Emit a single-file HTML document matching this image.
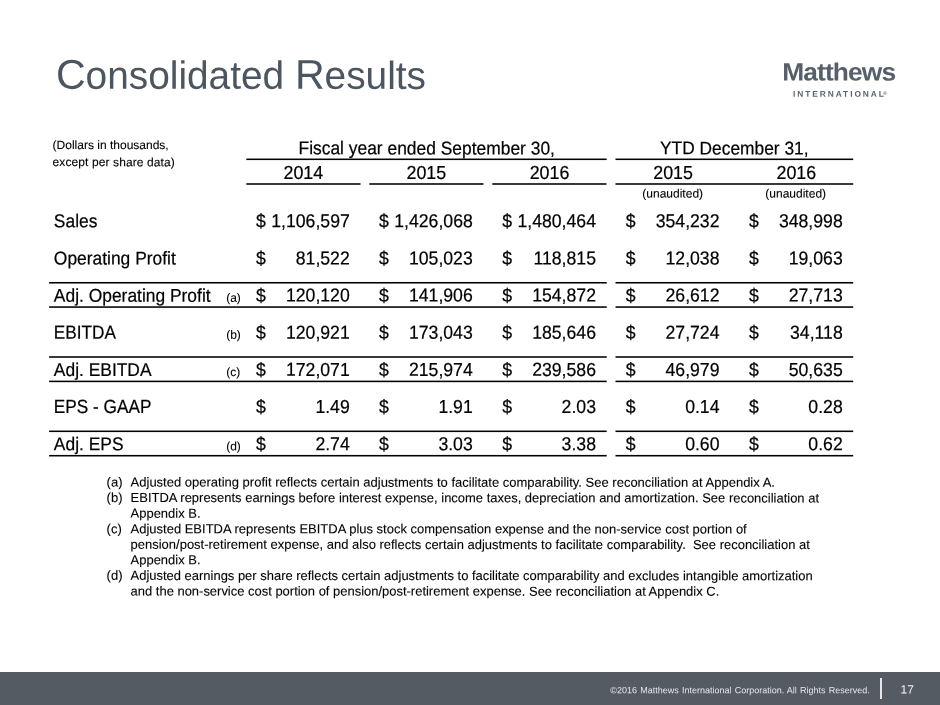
<!DOCTYPE html>
<html lang="en">
<head>
<meta charset="utf-8">
<title>Consolidated Results</title>
<style>
html,body{margin:0;padding:0;background:#fff;}
body{width:940px;height:705px;position:relative;overflow:hidden;font-family:"Liberation Sans",Arial,Helvetica,sans-serif;color:#000;}
.t{position:absolute;white-space:nowrap;margin:0;padding:0;}
.ln{position:absolute;}
h1.t{font-weight:normal;}
</style>
</head>
<body>
<svg class="ln" style="left:0;top:0" width="940" height="705" viewBox="0 0 940 705" fill="#000"><rect x="246.30" y="158.53" width="360.40" height="1.55"/><rect x="615.50" y="158.53" width="237.70" height="1.55"/><rect x="246.30" y="183.22" width="114.20" height="1.55"/><rect x="369.30" y="183.22" width="114.20" height="1.55"/><rect x="492.30" y="183.22" width="114.20" height="1.55"/><rect x="615.50" y="183.22" width="237.70" height="1.55"/><rect x="49.10" y="281.98" width="557.60" height="1.55"/><rect x="615.50" y="281.98" width="237.70" height="1.55"/><rect x="49.10" y="356.23" width="557.60" height="1.55"/><rect x="615.50" y="356.23" width="237.70" height="1.55"/><rect x="49.10" y="430.53" width="557.60" height="1.55"/><rect x="615.50" y="430.53" width="237.70" height="1.55"/><rect x="49.10" y="306.28" width="557.60" height="1.55"/><rect x="615.50" y="306.28" width="237.70" height="1.55"/><rect x="49.10" y="380.62" width="557.60" height="1.55"/><rect x="615.50" y="380.62" width="237.70" height="1.55"/><rect x="49.10" y="454.93" width="557.60" height="1.55"/><rect x="615.50" y="454.93" width="237.70" height="1.55"/></svg>
<header>
<h1 class="t" style="top:51px;font-size:39.3px;line-height:46px;left:55px;transform:translate(0.90px,0.70px) scale(0.9878,1) rotate(0.03deg);transform-origin:0 37px;color:#4c5661;"><span style="font-size:41.6px">C</span>onsolidated <span style="font-size:41.6px">R</span>esults</h1>
<div class="t" style="top:56px;font-size:25px;line-height:30px;left:782px;transform:translate(0.20px,0.50px) scale(1.055,1) rotate(0.03deg);transform-origin:0 24px;letter-spacing:-0.85px;color:#55606b;font-weight:bold;">Matthews</div>
<div class="t" style="top:87px;font-size:8.4px;line-height:12px;left:793px;transform:translate(0.00px,0.70px) rotate(0.03deg);transform-origin:0 9px;letter-spacing:1.93px;color:#58636e;font-weight:bold;">INTERNATIONAL</div>
<div class="t" style="top:89px;font-size:4.5px;line-height:7px;left:883px;transform:translate(0.20px,0.80px) rotate(0.03deg);transform-origin:0 5px;color:#55606b;font-weight:bold;">®</div>
</header>
<main>
<section class="results">
<div class="t" style="top:137px;font-size:12px;line-height:16px;left:52px;transform:translate(0.60px,0.00px) rotate(0.03deg);transform-origin:0 12px;-webkit-text-stroke:0.1px #000;">(Dollars in thousands,</div>
<div class="t" style="top:154px;font-size:12px;line-height:16px;left:52px;transform:translate(0.60px,0.10px) rotate(0.03deg);transform-origin:0 12px;letter-spacing:0.1px;-webkit-text-stroke:0.1px #000;">except per share data)</div>
<div class="t" style="top:137px;font-size:18px;line-height:22px;left:226px;width:400px;text-align:center;transform:translate(0.70px,0.40px) scale(0.967,1.03) rotate(0.03deg);transform-origin:50% 17px;-webkit-text-stroke:0.2px #000;">Fiscal year ended September 30,</div>
<div class="t" style="top:137px;font-size:18px;line-height:22px;left:534px;width:400px;text-align:center;transform:translate(0.30px,0.40px) scale(0.964,1.03) rotate(0.03deg);transform-origin:50% 17px;-webkit-text-stroke:0.2px #000;">YTD December 31,</div>
<div class="t" style="top:162px;font-size:18px;line-height:22px;left:103px;width:400px;text-align:center;transform:translate(0.30px,0.00px) scale(0.99,1.045) rotate(0.03deg);transform-origin:50% 17px;-webkit-text-stroke:0.2px #000;">2014</div>
<div class="t" style="top:162px;font-size:18px;line-height:22px;left:226px;width:400px;text-align:center;transform:translate(0.30px,0.00px) scale(0.99,1.045) rotate(0.03deg);transform-origin:50% 17px;-webkit-text-stroke:0.2px #000;">2015</div>
<div class="t" style="top:162px;font-size:18px;line-height:22px;left:349px;width:400px;text-align:center;transform:translate(0.50px,0.00px) scale(0.99,1.045) rotate(0.03deg);transform-origin:50% 17px;-webkit-text-stroke:0.2px #000;">2016</div>
<div class="t" style="top:162px;font-size:18px;line-height:22px;left:473px;width:400px;text-align:center;transform:translate(0.10px,0.00px) scale(0.99,1.045) rotate(0.03deg);transform-origin:50% 17px;-webkit-text-stroke:0.2px #000;">2015</div>
<div class="t" style="top:162px;font-size:18px;line-height:22px;left:596px;width:400px;text-align:center;transform:translate(0.30px,0.00px) scale(0.99,1.045) rotate(0.03deg);transform-origin:50% 17px;-webkit-text-stroke:0.2px #000;">2016</div>
<div class="t" style="top:185px;font-size:12px;line-height:16px;left:472px;width:400px;text-align:center;transform:translate(0.70px,0.60px) rotate(0.03deg);transform-origin:50% 12px;-webkit-text-stroke:0.1px #000;">(unaudited)</div>
<div class="t" style="top:185px;font-size:12px;line-height:16px;left:595px;width:400px;text-align:center;transform:translate(0.70px,0.60px) rotate(0.03deg);transform-origin:50% 12px;-webkit-text-stroke:0.1px #000;">(unaudited)</div>
<div class="t" style="top:210px;font-size:18px;line-height:22px;left:53px;transform:translate(0.85px,0.35px) scale(0.967,1.03) rotate(0.03deg);transform-origin:0 17px;-webkit-text-stroke:0.2px #000;">Sales</div>
<div class="t" style="top:210px;font-size:18px;line-height:22px;left:255px;transform:translate(0.95px,0.35px) scale(0.98,1.045) rotate(0.03deg);transform-origin:0 17px;-webkit-text-stroke:0.2px #000;">$</div>
<div class="t" style="top:210px;font-size:18px;line-height:22px;left:-51px;width:400px;text-align:right;transform:translate(0.75px,0.35px) scale(0.98,1.045) rotate(0.03deg);transform-origin:100% 17px;-webkit-text-stroke:0.2px #000;">1,106,597</div>
<div class="t" style="top:210px;font-size:18px;line-height:22px;left:378px;transform:translate(0.95px,0.35px) scale(0.98,1.045) rotate(0.03deg);transform-origin:0 17px;-webkit-text-stroke:0.2px #000;">$</div>
<div class="t" style="top:210px;font-size:18px;line-height:22px;left:72px;width:400px;text-align:right;transform:translate(0.75px,0.35px) scale(0.98,1.045) rotate(0.03deg);transform-origin:100% 17px;-webkit-text-stroke:0.2px #000;">1,426,068</div>
<div class="t" style="top:210px;font-size:18px;line-height:22px;left:502px;transform:translate(0.15px,0.35px) scale(0.98,1.045) rotate(0.03deg);transform-origin:0 17px;-webkit-text-stroke:0.2px #000;">$</div>
<div class="t" style="top:210px;font-size:18px;line-height:22px;left:195px;width:400px;text-align:right;transform:translate(0.95px,0.35px) scale(0.98,1.045) rotate(0.03deg);transform-origin:100% 17px;-webkit-text-stroke:0.2px #000;">1,480,464</div>
<div class="t" style="top:210px;font-size:18px;line-height:22px;left:625px;transform:translate(0.70px,0.35px) scale(0.98,1.045) rotate(0.03deg);transform-origin:0 17px;-webkit-text-stroke:0.2px #000;">$</div>
<div class="t" style="top:210px;font-size:18px;line-height:22px;left:319px;width:400px;text-align:right;transform:translate(0.50px,0.35px) scale(0.98,1.045) rotate(0.03deg);transform-origin:100% 17px;-webkit-text-stroke:0.2px #000;">354,232</div>
<div class="t" style="top:210px;font-size:18px;line-height:22px;left:748px;transform:translate(0.90px,0.35px) scale(0.98,1.045) rotate(0.03deg);transform-origin:0 17px;-webkit-text-stroke:0.2px #000;">$</div>
<div class="t" style="top:210px;font-size:18px;line-height:22px;left:442px;width:400px;text-align:right;transform:translate(0.70px,0.35px) scale(0.98,1.045) rotate(0.03deg);transform-origin:100% 17px;-webkit-text-stroke:0.2px #000;">348,998</div>
<div class="t" style="top:247px;font-size:18px;line-height:22px;left:53px;transform:translate(0.85px,0.49px) scale(0.967,1.03) rotate(0.03deg);transform-origin:0 17px;-webkit-text-stroke:0.2px #000;">Operating Profit</div>
<div class="t" style="top:247px;font-size:18px;line-height:22px;left:255px;transform:translate(0.95px,0.49px) scale(0.98,1.045) rotate(0.03deg);transform-origin:0 17px;-webkit-text-stroke:0.2px #000;">$</div>
<div class="t" style="top:247px;font-size:18px;line-height:22px;left:-51px;width:400px;text-align:right;transform:translate(0.75px,0.49px) scale(0.98,1.045) rotate(0.03deg);transform-origin:100% 17px;-webkit-text-stroke:0.2px #000;">81,522</div>
<div class="t" style="top:247px;font-size:18px;line-height:22px;left:378px;transform:translate(0.95px,0.49px) scale(0.98,1.045) rotate(0.03deg);transform-origin:0 17px;-webkit-text-stroke:0.2px #000;">$</div>
<div class="t" style="top:247px;font-size:18px;line-height:22px;left:72px;width:400px;text-align:right;transform:translate(0.75px,0.49px) scale(0.98,1.045) rotate(0.03deg);transform-origin:100% 17px;-webkit-text-stroke:0.2px #000;">105,023</div>
<div class="t" style="top:247px;font-size:18px;line-height:22px;left:502px;transform:translate(0.15px,0.49px) scale(0.98,1.045) rotate(0.03deg);transform-origin:0 17px;-webkit-text-stroke:0.2px #000;">$</div>
<div class="t" style="top:247px;font-size:18px;line-height:22px;left:195px;width:400px;text-align:right;transform:translate(0.95px,0.49px) scale(0.98,1.045) rotate(0.03deg);transform-origin:100% 17px;-webkit-text-stroke:0.2px #000;">118,815</div>
<div class="t" style="top:247px;font-size:18px;line-height:22px;left:625px;transform:translate(0.70px,0.49px) scale(0.98,1.045) rotate(0.03deg);transform-origin:0 17px;-webkit-text-stroke:0.2px #000;">$</div>
<div class="t" style="top:247px;font-size:18px;line-height:22px;left:319px;width:400px;text-align:right;transform:translate(0.50px,0.49px) scale(0.98,1.045) rotate(0.03deg);transform-origin:100% 17px;-webkit-text-stroke:0.2px #000;">12,038</div>
<div class="t" style="top:247px;font-size:18px;line-height:22px;left:748px;transform:translate(0.90px,0.49px) scale(0.98,1.045) rotate(0.03deg);transform-origin:0 17px;-webkit-text-stroke:0.2px #000;">$</div>
<div class="t" style="top:247px;font-size:18px;line-height:22px;left:442px;width:400px;text-align:right;transform:translate(0.70px,0.49px) scale(0.98,1.045) rotate(0.03deg);transform-origin:100% 17px;-webkit-text-stroke:0.2px #000;">19,063</div>
<div class="t" style="top:284px;font-size:18px;line-height:22px;left:53px;transform:translate(0.85px,0.63px) scale(0.967,1.03) rotate(0.03deg);transform-origin:0 17px;-webkit-text-stroke:0.2px #000;">Adj. Operating Profit</div>
<div class="t" style="top:289px;font-size:12px;line-height:16px;left:226px;transform:translate(0.20px,0.63px) rotate(0.03deg);transform-origin:0 12px;-webkit-text-stroke:0.1px #000;">(a)</div>
<div class="t" style="top:284px;font-size:18px;line-height:22px;left:255px;transform:translate(0.95px,0.63px) scale(0.98,1.045) rotate(0.03deg);transform-origin:0 17px;-webkit-text-stroke:0.2px #000;">$</div>
<div class="t" style="top:284px;font-size:18px;line-height:22px;left:-51px;width:400px;text-align:right;transform:translate(0.75px,0.63px) scale(0.98,1.045) rotate(0.03deg);transform-origin:100% 17px;-webkit-text-stroke:0.2px #000;">120,120</div>
<div class="t" style="top:284px;font-size:18px;line-height:22px;left:378px;transform:translate(0.95px,0.63px) scale(0.98,1.045) rotate(0.03deg);transform-origin:0 17px;-webkit-text-stroke:0.2px #000;">$</div>
<div class="t" style="top:284px;font-size:18px;line-height:22px;left:72px;width:400px;text-align:right;transform:translate(0.75px,0.63px) scale(0.98,1.045) rotate(0.03deg);transform-origin:100% 17px;-webkit-text-stroke:0.2px #000;">141,906</div>
<div class="t" style="top:284px;font-size:18px;line-height:22px;left:502px;transform:translate(0.15px,0.63px) scale(0.98,1.045) rotate(0.03deg);transform-origin:0 17px;-webkit-text-stroke:0.2px #000;">$</div>
<div class="t" style="top:284px;font-size:18px;line-height:22px;left:195px;width:400px;text-align:right;transform:translate(0.95px,0.63px) scale(0.98,1.045) rotate(0.03deg);transform-origin:100% 17px;-webkit-text-stroke:0.2px #000;">154,872</div>
<div class="t" style="top:284px;font-size:18px;line-height:22px;left:625px;transform:translate(0.70px,0.63px) scale(0.98,1.045) rotate(0.03deg);transform-origin:0 17px;-webkit-text-stroke:0.2px #000;">$</div>
<div class="t" style="top:284px;font-size:18px;line-height:22px;left:319px;width:400px;text-align:right;transform:translate(0.50px,0.63px) scale(0.98,1.045) rotate(0.03deg);transform-origin:100% 17px;-webkit-text-stroke:0.2px #000;">26,612</div>
<div class="t" style="top:284px;font-size:18px;line-height:22px;left:748px;transform:translate(0.90px,0.63px) scale(0.98,1.045) rotate(0.03deg);transform-origin:0 17px;-webkit-text-stroke:0.2px #000;">$</div>
<div class="t" style="top:284px;font-size:18px;line-height:22px;left:442px;width:400px;text-align:right;transform:translate(0.70px,0.63px) scale(0.98,1.045) rotate(0.03deg);transform-origin:100% 17px;-webkit-text-stroke:0.2px #000;">27,713</div>
<div class="t" style="top:321px;font-size:18px;line-height:22px;left:53px;transform:translate(0.85px,0.77px) scale(0.956,1.06) rotate(0.03deg);transform-origin:0 17px;-webkit-text-stroke:0.2px #000;">EBITDA</div>
<div class="t" style="top:326px;font-size:12px;line-height:16px;left:226px;transform:translate(0.20px,0.77px) rotate(0.03deg);transform-origin:0 12px;-webkit-text-stroke:0.1px #000;">(b)</div>
<div class="t" style="top:321px;font-size:18px;line-height:22px;left:255px;transform:translate(0.95px,0.77px) scale(0.98,1.045) rotate(0.03deg);transform-origin:0 17px;-webkit-text-stroke:0.2px #000;">$</div>
<div class="t" style="top:321px;font-size:18px;line-height:22px;left:-51px;width:400px;text-align:right;transform:translate(0.75px,0.77px) scale(0.98,1.045) rotate(0.03deg);transform-origin:100% 17px;-webkit-text-stroke:0.2px #000;">120,921</div>
<div class="t" style="top:321px;font-size:18px;line-height:22px;left:378px;transform:translate(0.95px,0.77px) scale(0.98,1.045) rotate(0.03deg);transform-origin:0 17px;-webkit-text-stroke:0.2px #000;">$</div>
<div class="t" style="top:321px;font-size:18px;line-height:22px;left:72px;width:400px;text-align:right;transform:translate(0.75px,0.77px) scale(0.98,1.045) rotate(0.03deg);transform-origin:100% 17px;-webkit-text-stroke:0.2px #000;">173,043</div>
<div class="t" style="top:321px;font-size:18px;line-height:22px;left:502px;transform:translate(0.15px,0.77px) scale(0.98,1.045) rotate(0.03deg);transform-origin:0 17px;-webkit-text-stroke:0.2px #000;">$</div>
<div class="t" style="top:321px;font-size:18px;line-height:22px;left:195px;width:400px;text-align:right;transform:translate(0.95px,0.77px) scale(0.98,1.045) rotate(0.03deg);transform-origin:100% 17px;-webkit-text-stroke:0.2px #000;">185,646</div>
<div class="t" style="top:321px;font-size:18px;line-height:22px;left:625px;transform:translate(0.70px,0.77px) scale(0.98,1.045) rotate(0.03deg);transform-origin:0 17px;-webkit-text-stroke:0.2px #000;">$</div>
<div class="t" style="top:321px;font-size:18px;line-height:22px;left:319px;width:400px;text-align:right;transform:translate(0.50px,0.77px) scale(0.98,1.045) rotate(0.03deg);transform-origin:100% 17px;-webkit-text-stroke:0.2px #000;">27,724</div>
<div class="t" style="top:321px;font-size:18px;line-height:22px;left:748px;transform:translate(0.90px,0.77px) scale(0.98,1.045) rotate(0.03deg);transform-origin:0 17px;-webkit-text-stroke:0.2px #000;">$</div>
<div class="t" style="top:321px;font-size:18px;line-height:22px;left:442px;width:400px;text-align:right;transform:translate(0.70px,0.77px) scale(0.98,1.045) rotate(0.03deg);transform-origin:100% 17px;-webkit-text-stroke:0.2px #000;">34,118</div>
<div class="t" style="top:358px;font-size:18px;line-height:22px;left:53px;transform:translate(0.85px,0.91px) scale(0.967,1.03) rotate(0.03deg);transform-origin:0 17px;-webkit-text-stroke:0.2px #000;">Adj. EBITDA</div>
<div class="t" style="top:363px;font-size:12px;line-height:16px;left:226px;transform:translate(0.20px,0.91px) rotate(0.03deg);transform-origin:0 12px;-webkit-text-stroke:0.1px #000;">(c)</div>
<div class="t" style="top:358px;font-size:18px;line-height:22px;left:255px;transform:translate(0.95px,0.91px) scale(0.98,1.045) rotate(0.03deg);transform-origin:0 17px;-webkit-text-stroke:0.2px #000;">$</div>
<div class="t" style="top:358px;font-size:18px;line-height:22px;left:-51px;width:400px;text-align:right;transform:translate(0.75px,0.91px) scale(0.98,1.045) rotate(0.03deg);transform-origin:100% 17px;-webkit-text-stroke:0.2px #000;">172,071</div>
<div class="t" style="top:358px;font-size:18px;line-height:22px;left:378px;transform:translate(0.95px,0.91px) scale(0.98,1.045) rotate(0.03deg);transform-origin:0 17px;-webkit-text-stroke:0.2px #000;">$</div>
<div class="t" style="top:358px;font-size:18px;line-height:22px;left:72px;width:400px;text-align:right;transform:translate(0.75px,0.91px) scale(0.98,1.045) rotate(0.03deg);transform-origin:100% 17px;-webkit-text-stroke:0.2px #000;">215,974</div>
<div class="t" style="top:358px;font-size:18px;line-height:22px;left:502px;transform:translate(0.15px,0.91px) scale(0.98,1.045) rotate(0.03deg);transform-origin:0 17px;-webkit-text-stroke:0.2px #000;">$</div>
<div class="t" style="top:358px;font-size:18px;line-height:22px;left:195px;width:400px;text-align:right;transform:translate(0.95px,0.91px) scale(0.98,1.045) rotate(0.03deg);transform-origin:100% 17px;-webkit-text-stroke:0.2px #000;">239,586</div>
<div class="t" style="top:358px;font-size:18px;line-height:22px;left:625px;transform:translate(0.70px,0.91px) scale(0.98,1.045) rotate(0.03deg);transform-origin:0 17px;-webkit-text-stroke:0.2px #000;">$</div>
<div class="t" style="top:358px;font-size:18px;line-height:22px;left:319px;width:400px;text-align:right;transform:translate(0.50px,0.91px) scale(0.98,1.045) rotate(0.03deg);transform-origin:100% 17px;-webkit-text-stroke:0.2px #000;">46,979</div>
<div class="t" style="top:358px;font-size:18px;line-height:22px;left:748px;transform:translate(0.90px,0.91px) scale(0.98,1.045) rotate(0.03deg);transform-origin:0 17px;-webkit-text-stroke:0.2px #000;">$</div>
<div class="t" style="top:358px;font-size:18px;line-height:22px;left:442px;width:400px;text-align:right;transform:translate(0.70px,0.91px) scale(0.98,1.045) rotate(0.03deg);transform-origin:100% 17px;-webkit-text-stroke:0.2px #000;">50,635</div>
<div class="t" style="top:396px;font-size:18px;line-height:22px;left:53px;transform:translate(0.85px,0.05px) scale(0.956,1.06) rotate(0.03deg);transform-origin:0 17px;-webkit-text-stroke:0.2px #000;">EPS - GAAP</div>
<div class="t" style="top:396px;font-size:18px;line-height:22px;left:255px;transform:translate(0.95px,0.05px) scale(0.98,1.045) rotate(0.03deg);transform-origin:0 17px;-webkit-text-stroke:0.2px #000;">$</div>
<div class="t" style="top:396px;font-size:18px;line-height:22px;left:-51px;width:400px;text-align:right;transform:translate(0.75px,0.05px) scale(0.98,1.045) rotate(0.03deg);transform-origin:100% 17px;-webkit-text-stroke:0.2px #000;">1.49</div>
<div class="t" style="top:396px;font-size:18px;line-height:22px;left:378px;transform:translate(0.95px,0.05px) scale(0.98,1.045) rotate(0.03deg);transform-origin:0 17px;-webkit-text-stroke:0.2px #000;">$</div>
<div class="t" style="top:396px;font-size:18px;line-height:22px;left:72px;width:400px;text-align:right;transform:translate(0.75px,0.05px) scale(0.98,1.045) rotate(0.03deg);transform-origin:100% 17px;-webkit-text-stroke:0.2px #000;">1.91</div>
<div class="t" style="top:396px;font-size:18px;line-height:22px;left:502px;transform:translate(0.15px,0.05px) scale(0.98,1.045) rotate(0.03deg);transform-origin:0 17px;-webkit-text-stroke:0.2px #000;">$</div>
<div class="t" style="top:396px;font-size:18px;line-height:22px;left:195px;width:400px;text-align:right;transform:translate(0.95px,0.05px) scale(0.98,1.045) rotate(0.03deg);transform-origin:100% 17px;-webkit-text-stroke:0.2px #000;">2.03</div>
<div class="t" style="top:396px;font-size:18px;line-height:22px;left:625px;transform:translate(0.70px,0.05px) scale(0.98,1.045) rotate(0.03deg);transform-origin:0 17px;-webkit-text-stroke:0.2px #000;">$</div>
<div class="t" style="top:396px;font-size:18px;line-height:22px;left:319px;width:400px;text-align:right;transform:translate(0.50px,0.05px) scale(0.98,1.045) rotate(0.03deg);transform-origin:100% 17px;-webkit-text-stroke:0.2px #000;">0.14</div>
<div class="t" style="top:396px;font-size:18px;line-height:22px;left:748px;transform:translate(0.90px,0.05px) scale(0.98,1.045) rotate(0.03deg);transform-origin:0 17px;-webkit-text-stroke:0.2px #000;">$</div>
<div class="t" style="top:396px;font-size:18px;line-height:22px;left:442px;width:400px;text-align:right;transform:translate(0.70px,0.05px) scale(0.98,1.045) rotate(0.03deg);transform-origin:100% 17px;-webkit-text-stroke:0.2px #000;">0.28</div>
<div class="t" style="top:433px;font-size:18px;line-height:22px;left:53px;transform:translate(0.85px,0.19px) scale(0.967,1.03) rotate(0.03deg);transform-origin:0 17px;-webkit-text-stroke:0.2px #000;">Adj. EPS</div>
<div class="t" style="top:438px;font-size:12px;line-height:16px;left:226px;transform:translate(0.20px,0.19px) rotate(0.03deg);transform-origin:0 12px;-webkit-text-stroke:0.1px #000;">(d)</div>
<div class="t" style="top:433px;font-size:18px;line-height:22px;left:255px;transform:translate(0.95px,0.19px) scale(0.98,1.045) rotate(0.03deg);transform-origin:0 17px;-webkit-text-stroke:0.2px #000;">$</div>
<div class="t" style="top:433px;font-size:18px;line-height:22px;left:-51px;width:400px;text-align:right;transform:translate(0.75px,0.19px) scale(0.98,1.045) rotate(0.03deg);transform-origin:100% 17px;-webkit-text-stroke:0.2px #000;">2.74</div>
<div class="t" style="top:433px;font-size:18px;line-height:22px;left:378px;transform:translate(0.95px,0.19px) scale(0.98,1.045) rotate(0.03deg);transform-origin:0 17px;-webkit-text-stroke:0.2px #000;">$</div>
<div class="t" style="top:433px;font-size:18px;line-height:22px;left:72px;width:400px;text-align:right;transform:translate(0.75px,0.19px) scale(0.98,1.045) rotate(0.03deg);transform-origin:100% 17px;-webkit-text-stroke:0.2px #000;">3.03</div>
<div class="t" style="top:433px;font-size:18px;line-height:22px;left:502px;transform:translate(0.15px,0.19px) scale(0.98,1.045) rotate(0.03deg);transform-origin:0 17px;-webkit-text-stroke:0.2px #000;">$</div>
<div class="t" style="top:433px;font-size:18px;line-height:22px;left:195px;width:400px;text-align:right;transform:translate(0.95px,0.19px) scale(0.98,1.045) rotate(0.03deg);transform-origin:100% 17px;-webkit-text-stroke:0.2px #000;">3.38</div>
<div class="t" style="top:433px;font-size:18px;line-height:22px;left:625px;transform:translate(0.70px,0.19px) scale(0.98,1.045) rotate(0.03deg);transform-origin:0 17px;-webkit-text-stroke:0.2px #000;">$</div>
<div class="t" style="top:433px;font-size:18px;line-height:22px;left:319px;width:400px;text-align:right;transform:translate(0.50px,0.19px) scale(0.98,1.045) rotate(0.03deg);transform-origin:100% 17px;-webkit-text-stroke:0.2px #000;">0.60</div>
<div class="t" style="top:433px;font-size:18px;line-height:22px;left:748px;transform:translate(0.90px,0.19px) scale(0.98,1.045) rotate(0.03deg);transform-origin:0 17px;-webkit-text-stroke:0.2px #000;">$</div>
<div class="t" style="top:433px;font-size:18px;line-height:22px;left:442px;width:400px;text-align:right;transform:translate(0.70px,0.19px) scale(0.98,1.045) rotate(0.03deg);transform-origin:100% 17px;-webkit-text-stroke:0.2px #000;">0.62</div>
</section>
<section class="notes">
<div class="t" style="top:473px;font-size:13px;line-height:17px;left:106px;transform:translate(0.60px,0.50px) rotate(0.03deg);transform-origin:0 13px;-webkit-text-stroke:0.1px #000;">(a)</div>
<div class="t" style="top:473px;font-size:13px;line-height:17px;left:130px;transform:translate(0.60px,0.50px) rotate(0.03deg);transform-origin:0 13px;-webkit-text-stroke:0.1px #000;">Adjusted operating profit reflects certain adjustments to facilitate comparability. See reconciliation at Appendix A.</div>
<div class="t" style="top:489px;font-size:13px;line-height:17px;left:106px;transform:translate(0.60px,0.06px) rotate(0.03deg);transform-origin:0 13px;-webkit-text-stroke:0.1px #000;">(b)</div>
<div class="t" style="top:489px;font-size:13px;line-height:17px;left:130px;transform:translate(0.60px,0.06px) scale(0.9975,1) rotate(0.03deg);transform-origin:0 13px;-webkit-text-stroke:0.1px #000;">EBITDA represents earnings before interest expense, income taxes, depreciation and amortization. See reconciliation at</div>
<div class="t" style="top:504px;font-size:13px;line-height:17px;left:130px;transform:translate(0.60px,0.62px) scale(0.997,1) rotate(0.03deg);transform-origin:0 13px;-webkit-text-stroke:0.1px #000;">Appendix B.</div>
<div class="t" style="top:520px;font-size:13px;line-height:17px;left:106px;transform:translate(0.60px,0.18px) rotate(0.03deg);transform-origin:0 13px;-webkit-text-stroke:0.1px #000;">(c)</div>
<div class="t" style="top:520px;font-size:13px;line-height:17px;left:130px;transform:translate(0.60px,0.18px) scale(0.9984,1) rotate(0.03deg);transform-origin:0 13px;-webkit-text-stroke:0.1px #000;">Adjusted EBITDA represents EBITDA plus stock compensation expense and the non-service cost portion of</div>
<div class="t" style="top:535px;font-size:13px;line-height:17px;left:130px;transform:translate(0.60px,0.74px) scale(0.9982,1) rotate(0.03deg);transform-origin:0 13px;-webkit-text-stroke:0.1px #000;">pension/post-retirement expense, and also reflects certain adjustments to facilitate comparability.&nbsp; See reconciliation at</div>
<div class="t" style="top:551px;font-size:13px;line-height:17px;left:130px;transform:translate(0.60px,0.30px) scale(0.997,1) rotate(0.03deg);transform-origin:0 13px;-webkit-text-stroke:0.1px #000;">Appendix B.</div>
<div class="t" style="top:566px;font-size:13px;line-height:17px;left:106px;transform:translate(0.60px,0.86px) rotate(0.03deg);transform-origin:0 13px;-webkit-text-stroke:0.1px #000;">(d)</div>
<div class="t" style="top:566px;font-size:13px;line-height:17px;left:130px;transform:translate(0.60px,0.86px) scale(0.9966,1) rotate(0.03deg);transform-origin:0 13px;-webkit-text-stroke:0.1px #000;">Adjusted earnings per share reflects certain adjustments to facilitate comparability and excludes intangible amortization</div>
<div class="t" style="top:582px;font-size:13px;line-height:17px;left:130px;transform:translate(0.60px,0.42px) scale(0.997,1) rotate(0.03deg);transform-origin:0 13px;-webkit-text-stroke:0.1px #000;">and the non-service cost portion of pension/post-retirement expense. See reconciliation at Appendix C.</div>
</section>
</main>
<footer>
<div class="ln" style="left:0;top:672px;width:940px;height:33px;background:#545b63"></div>
<div class="t" style="top:684px;font-size:9px;line-height:12px;left:469px;width:400px;text-align:right;transform:translate(0.80px,0.30px) rotate(0.03deg);transform-origin:100% 9px;word-spacing:0.7px;color:#e4e6e8;">©2016 Matthews International Corporation. All Rights Reserved.</div>
<div class="ln" style="left:880px;top:678px;width:2px;height:20.5px;background:#e4e6e8"></div>
<div class="t" style="top:681px;font-size:12px;line-height:16px;left:900px;transform:translate(0.60px,0.40px) rotate(0.03deg);transform-origin:0 12px;color:#f0f1f2;">17</div>
</footer>
</body>
</html>
